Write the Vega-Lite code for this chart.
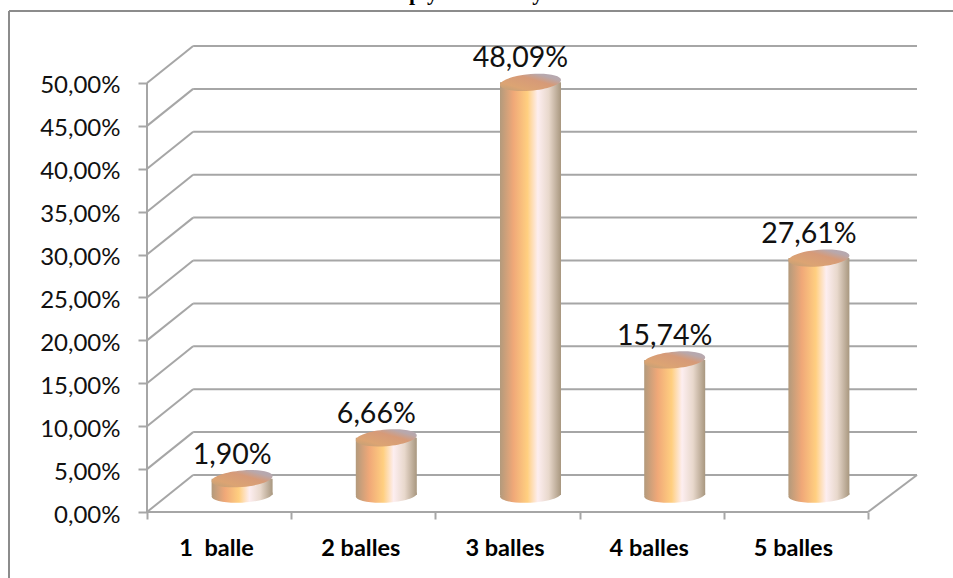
{
  "$schema": "https://vega.github.io/schema/vega-lite/v6.json",
  "width": 770,
  "height": 466,
  "autosize": "none",
  "padding": {"left": 147, "top": 46, "right": 36, "bottom": 66},
  "background": "white",
  "config": {"view": {"stroke": null}},
  "datasets": {
    "bars": [
      {"cat": "1\u00a0 balle", "value": 1.90, "label": "1,90%"},
      {"cat": "2 balles", "value": 6.66, "label": "6,66%"},
      {"cat": "3 balles", "value": 48.09, "label": "48,09%"},
      {"cat": "4 balles", "value": 15.74, "label": "15,74%"},
      {"cat": "5 balles", "value": 27.61, "label": "27,61%"}
    ],
    "grid": [
      {"a": 0, "b": 0.32, "v": 0, "w": 4.31}, {"a": 0.32, "b": 5.34, "v": 4.31, "w": 4.31},
      {"a": 0, "b": 0.32, "v": 5, "w": 9.31}, {"a": 0.32, "b": 5.34, "v": 9.31, "w": 9.31},
      {"a": 0, "b": 0.32, "v": 10, "w": 14.31}, {"a": 0.32, "b": 5.34, "v": 14.31, "w": 14.31},
      {"a": 0, "b": 0.32, "v": 15, "w": 19.31}, {"a": 0.32, "b": 5.34, "v": 19.31, "w": 19.31},
      {"a": 0, "b": 0.32, "v": 20, "w": 24.31}, {"a": 0.32, "b": 5.34, "v": 24.31, "w": 24.31},
      {"a": 0, "b": 0.32, "v": 25, "w": 29.31}, {"a": 0.32, "b": 5.34, "v": 29.31, "w": 29.31},
      {"a": 0, "b": 0.32, "v": 30, "w": 34.31}, {"a": 0.32, "b": 5.34, "v": 34.31, "w": 34.31},
      {"a": 0, "b": 0.32, "v": 35, "w": 39.31}, {"a": 0.32, "b": 5.34, "v": 39.31, "w": 39.31},
      {"a": 0, "b": 0.32, "v": 40, "w": 44.31}, {"a": 0.32, "b": 5.34, "v": 44.31, "w": 44.31},
      {"a": 0, "b": 0.32, "v": 45, "w": 49.31}, {"a": 0.32, "b": 5.34, "v": 49.31, "w": 49.31},
      {"a": 0, "b": 0.32, "v": 50, "w": 54.31}, {"a": 0.32, "b": 5.34, "v": 54.31, "w": 54.31},
      {"a": 0, "b": 0, "v": 0, "w": 50},
      {"a": 0, "b": 5, "v": 0, "w": 0},
      {"a": 5, "b": 5.34, "v": 0, "w": 4.31}
    ],
    "frame": [
      {"a": -0.957, "b": 5.59, "v": 58.39, "w": 58.39},
      {"a": -0.957, "b": -0.957, "v": 58.39, "w": -7.7}
    ],
    "titleBits": [
      {"a": 1.86, "v": 59.7, "t": "p"},
      {"a": 1.98, "v": 59.7, "t": "y"},
      {"a": 2.71, "v": 59.7, "t": "y"}
    ]
  },
  "layer": [
    {
      "data": {"name": "grid"},
      "mark": {"type": "rule", "color": "#a6a6a6", "strokeWidth": 2},
      "encoding": {
        "x": {"field": "a", "type": "quantitative", "axis": null, "scale": {"domain": [0, 5.34], "nice": false, "zero": false}},
        "x2": {"field": "b"},
        "y": {"field": "v", "type": "quantitative", "title": null,
          "scale": {"domain": [0, 54.31], "nice": false},
          "axis": {"values": [0,5,10,15,20,25,30,35,40,45,50], "grid": false, "domain": false, "tickColor": "#a6a6a6", "tickWidth": 2, "tickSize": 9, "labelPadding": 18, "labelOffset": 3, "labelFont": "Lato", "labelFontSize": 24, "labelColor": "#111111", "labelExpr": "replace(format(datum.value,'.2f'),'.',',')+'%'"}
        },
        "y2": {"field": "w"}
      }
    },
    {
      "data": {"name": "frame"},
      "mark": {"type": "rule", "color": "#8c8c8c", "strokeWidth": 2},
      "encoding": {
        "x": {"field": "a", "type": "quantitative", "axis": null, "scale": {"domain": [0, 5.34], "nice": false, "zero": false}},
        "x2": {"field": "b"},
        "y": {"field": "v", "type": "quantitative"},
        "y2": {"field": "w"}
      }
    },
    {
      "data": {"name": "titleBits"},
      "mark": {"type": "text", "font": "Liberation Serif", "fontWeight": "bold", "fontSize": 22, "color": "black", "baseline": "alphabetic"},
      "encoding": {
        "x": {"field": "a", "type": "quantitative", "axis": null, "scale": {"domain": [0, 5.34], "nice": false, "zero": false}},
        "y": {"field": "v", "type": "quantitative"},
        "text": {"field": "t"}
      }
    },
    {
      "data": {"name": "bars"},
      "encoding": {
        "x": {"field": "cat", "type": "nominal", "title": null, "sort": null,
          "scale": {"type": "band", "range": [0, 721], "paddingInner": 0, "paddingOuter": 0},
          "axis": {"tickBand": "extent", "domain": false, "tickColor": "#a6a6a6", "tickWidth": 2, "tickSize": 7, "labelAngle": 0, "labelPadding": 36, "labelOffset": -3, "labelFont": "Lato", "labelFontSize": 23.5, "labelFontWeight": "bold", "labelColor": "black", "labelBaseline": "alphabetic"}
        }
      },
      "layer": [
        {
          "mark": {"type": "point", "filled": true, "opacity": 1, "size": 3721, "xOffset": 23, "yOffset": -17,
            "shape": "M-1,0.05 A1,0.25 -3 1 1 1,-0.05 A1,0.25 -3 1 1 -1,0.05 Z",
            "fill": {"gradient": "linear", "x1": 0, "y1": 0, "x2": 1, "y2": 0, "stops": [
              {"offset": 0, "color": "#b39a7c"}, {"offset": 0.22, "color": "#f0a878"}, {"offset": 0.45, "color": "#ffcf80"}, {"offset": 0.62, "color": "#fdeef0"}, {"offset": 0.8, "color": "#e8d8cc"}, {"offset": 1, "color": "#a8977f"}]}},
          "encoding": {"y": {"datum": 0, "type": "quantitative"}}
        },
        {
          "mark": {"type": "bar", "width": 61, "xOffset": 23, "yOffset": -17,
            "fill": {"gradient": "linear", "x1": 0, "y1": 0, "x2": 1, "y2": 0, "stops": [
              {"offset": 0, "color": "#b39a7c"}, {"offset": 0.22, "color": "#f0a878"}, {"offset": 0.45, "color": "#ffcf80"}, {"offset": 0.62, "color": "#fdeef0"}, {"offset": 0.8, "color": "#e8d8cc"}, {"offset": 1, "color": "#a8977f"}]}},
          "encoding": {"y": {"field": "value", "type": "quantitative"}, "y2": {"datum": 1.98}}
        },
        {
          "mark": {"type": "point", "filled": true, "opacity": 1, "size": 3721, "xOffset": 23, "yOffset": -17,
            "shape": "M-1,0.08 A1,0.27 -5 1 1 1,-0.08 A1,0.27 -5 1 1 -1,0.08 Z",
            "fill": {"gradient": "linear", "x1": 0, "y1": 1, "x2": 1, "y2": 0, "stops": [
              {"offset": 0, "color": "#bd9f78"}, {"offset": 0.25, "color": "#dca473"}, {"offset": 0.6, "color": "#d69a78"}, {"offset": 0.8, "color": "#b8a8ac"}, {"offset": 1, "color": "#b4a8b4"}]}},
          "encoding": {"y": {"field": "value", "type": "quantitative"}}
        },
        {
          "mark": {"type": "text", "xOffset": 13, "yOffset": -32, "baseline": "alphabetic", "font": "Lato", "fontSize": 28.5, "color": "#111111"},
          "encoding": {"y": {"field": "value", "type": "quantitative"}, "text": {"field": "label"}}
        }
      ]
    }
  ],
  "resolve": {"scale": {"x": "independent"}, "axis": {"x": "independent"}}
}
